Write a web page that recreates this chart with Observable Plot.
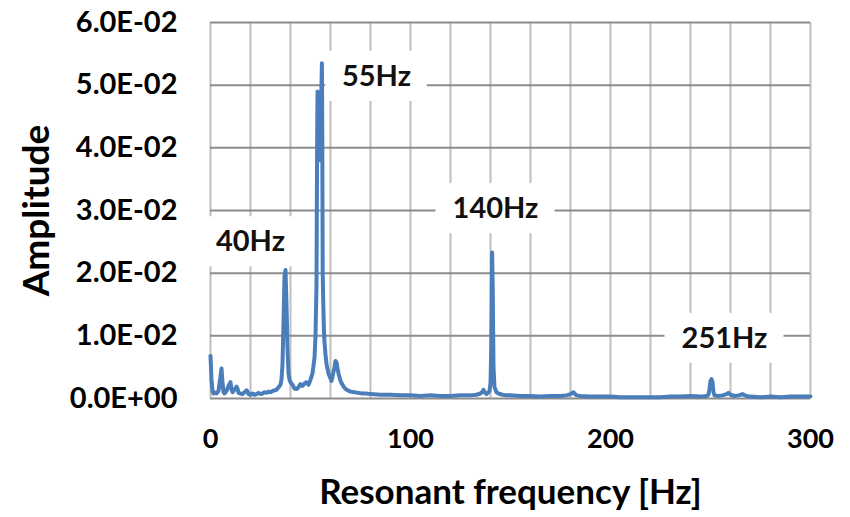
<!DOCTYPE html>
<html><head><meta charset="utf-8">
<script src="https://cdn.jsdelivr.net/npm/d3@7"></script>
<script src="https://cdn.jsdelivr.net/npm/@observablehq/plot@0.6"></script>
<style>
body{margin:0;background:#fff;}
#chart svg{font-family:Lato,"Open Sans",sans-serif;}
</style></head><body><div id="chart"></div>
<script>
// Spectrum (frequency in Hz, amplitude)
const freq = [0,0.5,1,1.5,2,3,4,5,5.5,6,6.5,7,8,9,10,10.5,11,12,13,13.5,14,15,16,17,18,18.5,19,20,21,22,23,24,25,26,27,28,29,30,31,32,33,34,35,35.5,36,36.5,37,37.5,38,38.5,39,39.5,40,41,42,43,44,45,46,47,48,49,50,51,52,52.5,53,53.3,53.5,53.7,53.9,54.1,54.3,54.5,54.7,54.9,55.1,55.3,55.5,55.7,55.9,56.1,56.4,56.7,57,57.5,58,59,60,60.5,61,62,62.5,63,63.5,64,65,66,67,68,70,72,74,76,78,80,85,90,95,100,105,110,115,120,125,130,133,135,136,136.5,137,138,139,139.5,140,140.4,140.8,141.1,141.5,142,143,144,146,148,150,155,160,165,170,175,178,180,181,181.5,182,183,185,190,195,200,205,210,215,220,225,230,235,240,245,248,249,249.5,250,250.5,251,251.5,252,254,256,258,259,260,262,264,266,268,270,275,280,285,290,295,300];
const amp = [0.0068,0.0030,0.0012,0.0008,0.0010,0.0008,0.0012,0.0035,0.0048,0.0025,0.0010,0.0008,0.0012,0.0020,0.0026,0.0015,0.0010,0.0014,0.0019,0.0016,0.0009,0.0008,0.0007,0.0010,0.0013,0.0011,0.0007,0.0006,0.0008,0.0006,0.0007,0.0009,0.0007,0.0008,0.0010,0.0009,0.0011,0.0010,0.0012,0.0013,0.0014,0.0018,0.0022,0.0030,0.0055,0.0120,0.0195,0.0205,0.0150,0.0080,0.0040,0.0030,0.0026,0.0022,0.0016,0.0015,0.0018,0.0023,0.0020,0.0024,0.0026,0.0022,0.0030,0.0040,0.0065,0.0100,0.0180,0.0400,0.0490,0.0460,0.0485,0.0420,0.0470,0.0380,0.0450,0.0470,0.0400,0.0480,0.0500,0.0535,0.0420,0.0200,0.0150,0.0110,0.0090,0.0070,0.0055,0.0040,0.0032,0.0028,0.0035,0.0050,0.0060,0.0058,0.0048,0.0040,0.0028,0.0022,0.0017,0.0014,0.0011,0.0010,0.0009,0.0008,0.0008,0.0007,0.0006,0.0006,0.0005,0.0005,0.0004,0.0005,0.0004,0.0004,0.0005,0.0005,0.0006,0.0008,0.0011,0.0014,0.0010,0.0007,0.0010,0.0012,0.0025,0.0080,0.0233,0.0180,0.0050,0.0018,0.0010,0.0008,0.0006,0.0005,0.0005,0.0004,0.0004,0.0003,0.0004,0.0004,0.0005,0.0007,0.0009,0.0010,0.0008,0.0005,0.0004,0.0003,0.0003,0.0003,0.0002,0.0002,0.0002,0.0002,0.0002,0.0003,0.0003,0.0004,0.0003,0.0004,0.0006,0.0015,0.0028,0.0031,0.0026,0.0010,0.0005,0.0004,0.0005,0.0007,0.0009,0.0006,0.0004,0.0005,0.0007,0.0004,0.0003,0.0002,0.0003,0.0002,0.0003,0.0003,0.0003];

// Peak annotations
const peakLabels = ["40Hz","55Hz","140Hz","251Hz"];
const peakLabelX = [20, 83, 142.5, 257];
const peakLabelY = [0.0250, 0.0514, 0.0303, 0.0096];

// Axes
const xTicks = [0,100,200,300];
const xGrid = [0,20,40,60,80,100,120,140,160,180,200,220,240,260,280,300];
const yTicks = [0,0.01,0.02,0.03,0.04,0.05,0.06];
const yTickLabels = ["0.0E+00","1.0E-02","2.0E-02","3.0E-02","4.0E-02","5.0E-02","6.0E-02"];
const xTitle = "Resonant frequency [Hz]";
const yTitle = "Amplitude";

const W=850,H=517,mL=210,mR=40,mT=22,mB=119;
const kx = 300/(W-mL-mR), ky = 0.06/(H-mT-mB);
const labelFont = 29;

const series = freq.map((f,i)=>({f, a: amp[i]}));
const labels = peakLabels.map((t,i)=>{
  const halfW = t.length*labelFont*0.3 + 16;
  return {t, x: peakLabelX[i], y: peakLabelY[i],
    x1: peakLabelX[i]-halfW*kx, x2: peakLabelX[i]+halfW*kx,
    y1: peakLabelY[i]-25*ky, y2: peakLabelY[i]+25*ky};
});

const plot = Plot.plot({
  width:W, height:H, marginLeft:mL, marginRight:mR, marginTop:mT, marginBottom:mB,
  style:{fontFamily:"Lato, 'Open Sans', sans-serif", background:"#fff", color:"#000"},
  x:{domain:[0,300]},
  y:{domain:[0,0.06]},
  marks:[
    Plot.gridX(xGrid,{stroke:"#bfbfbf",strokeOpacity:1,strokeWidth:2}),
    Plot.gridY(yTicks,{stroke:"#8c8c8c",strokeOpacity:1,strokeWidth:2}),
    Plot.rect(labels,{x1:"x1",x2:"x2",y1:"y1",y2:"y2",fill:"white"}),
    Plot.line(series,{x:"f",y:"a",stroke:"#4a7ebb",strokeWidth:4,strokeLinejoin:"round"}),
    Plot.text(labels,{x:"x",y:"y",text:"t",fontSize:labelFont,fontWeight:"bold",fill:"#111"}),
    Plot.axisX(xTicks,{tickSize:0,tickPadding:30,fontSize:27,fontWeight:"bold",label:null}),
    Plot.axisY(yTicks,{tickSize:0,tickPadding:33,fontSize:29,fontWeight:"bold",label:null,
      tickFormat:d=>yTickLabels[Math.round(d*100)]}),
    Plot.text([xTitle],{frameAnchor:"bottom",dy:94,lineAnchor:"middle",textAnchor:"middle",text:d=>d,fontSize:35,fontWeight:"bold",fill:"#000"}),
    Plot.text([yTitle],{frameAnchor:"left",dx:-173,rotate:-90,lineAnchor:"middle",textAnchor:"middle",text:d=>d,fontSize:37,fontWeight:"bold",fill:"#000"})
  ]
});
document.getElementById("chart").appendChild(plot);
</script></body></html>
